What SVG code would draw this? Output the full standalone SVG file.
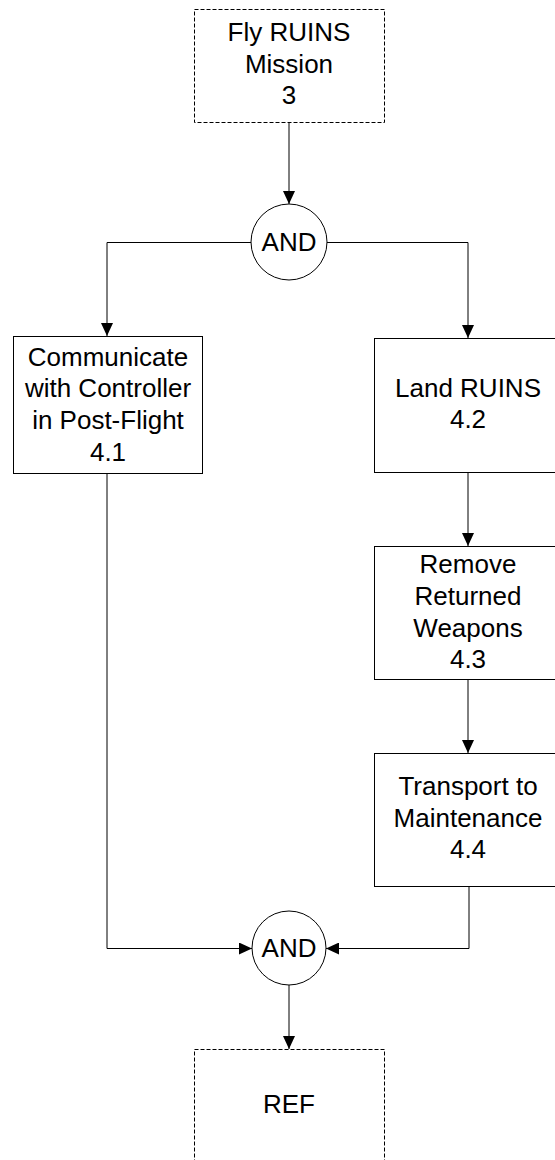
<svg xmlns="http://www.w3.org/2000/svg" width="555" height="1160" viewBox="0 0 555 1160">
<style>
.box{fill:#fff;stroke:#000;stroke-width:1}
.ref{fill:#fff;stroke:#000;stroke-width:1;stroke-dasharray:4,2}
.gate{fill:#fff;stroke:#000;stroke-width:1}
.lbl{font-family:"Liberation Sans",Arial,sans-serif;font-size:26px;fill:#000;text-anchor:middle}
.conn{fill:none;stroke:#000;stroke-width:1}
</style>
<defs>
<marker id="arr" viewBox="0 0 13 12" refX="13" refY="6" markerWidth="13" markerHeight="12" markerUnits="userSpaceOnUse" orient="auto">
<path d="M0,0 L13,6 L0,12 z" fill="#000"/>
</marker>
</defs>
<rect width="555" height="1160" fill="#fff"/>
<g id="connectors">
<path class="conn" d="M289,122 V204" marker-end="url(#arr)"/>
<path class="conn" d="M251,242.5 H107 V336" marker-end="url(#arr)"/>
<path class="conn" d="M327,242.5 H468 V338" marker-end="url(#arr)"/>
<path class="conn" d="M468,472 V546" marker-end="url(#arr)"/>
<path class="conn" d="M468,679 V753" marker-end="url(#arr)"/>
<path class="conn" d="M107,473 V948.5 H252" marker-end="url(#arr)"/>
<path class="conn" d="M469,886 V948.5 H326" marker-end="url(#arr)"/>
<path class="conn" d="M289,985 V1049" marker-end="url(#arr)"/>
</g>
<g id="n3">
<rect class="ref" x="194.5" y="9.5" width="190" height="113"/>
<text class="lbl" x="289" y="41">Fly RUINS</text>
<text class="lbl" x="289" y="73">Mission</text>
<text class="lbl" x="289" y="104">3</text>
</g>
<g id="and1">
<circle class="gate" cx="289" cy="242" r="38"/>
<text class="lbl" x="289" y="251">AND</text>
</g>
<g id="n41">
<rect class="box" x="13.5" y="336.5" width="189" height="137"/>
<text class="lbl" x="108" y="366">Communicate</text>
<text class="lbl" x="108" y="397">with Controller</text>
<text class="lbl" x="108" y="429">in Post-Flight</text>
<text class="lbl" x="108" y="461">4.1</text>
</g>
<g id="n42">
<rect class="box" x="374.5" y="338.5" width="189" height="134"/>
<text class="lbl" x="468" y="397">Land RUINS</text>
<text class="lbl" x="468" y="428">4.2</text>
</g>
<g id="n43">
<rect class="box" x="374.5" y="546.5" width="189" height="133"/>
<text class="lbl" x="468" y="573">Remove</text>
<text class="lbl" x="468" y="605">Returned</text>
<text class="lbl" x="468" y="637">Weapons</text>
<text class="lbl" x="468" y="668">4.3</text>
</g>
<g id="n44">
<rect class="box" x="374.5" y="753.5" width="189" height="133"/>
<text class="lbl" x="468" y="795">Transport to</text>
<text class="lbl" x="468" y="827">Maintenance</text>
<text class="lbl" x="468" y="858">4.4</text>
</g>
<g id="and2">
<circle class="gate" cx="289" cy="948" r="37"/>
<text class="lbl" x="289" y="957">AND</text>
</g>
<g id="ref">
<rect class="ref" x="194.5" y="1049.5" width="190" height="125"/>
<text class="lbl" x="289" y="1113">REF</text>
</g>
</svg>
